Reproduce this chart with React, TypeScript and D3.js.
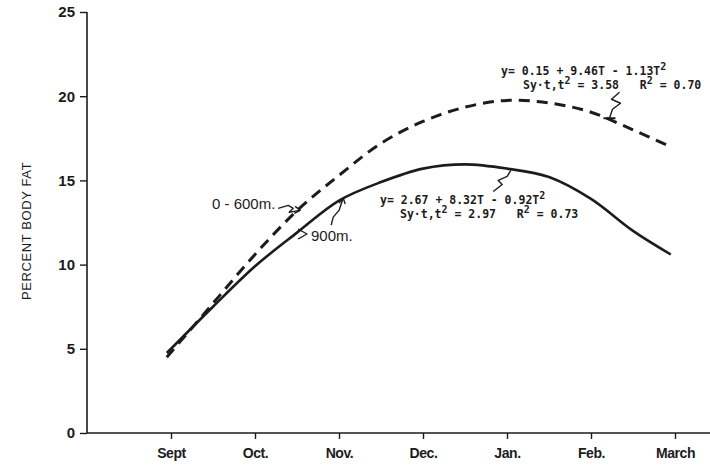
import { useRef, useEffect } from 'react';
import * as d3 from 'd3';

// months since September (0 = Sept ... 6 = March)
const monthLabels = ['Sept', 'Oct.', 'Nov.', 'Dec.', 'Jan.', 'Feb.', 'March'];
const yTicks = [0, 5, 10, 15, 20, 25];

const samplePos = [-0.05, 0.5, 1, 1.5, 2, 2.5, 3, 3.5, 4, 4.5, 5, 5.5, 5.95];
const fat900 = [4.75, 7.5, 9.9, 11.9, 13.8, 14.9, 15.7, 15.95, 15.7, 15.2, 13.9, 12.0, 10.6];
const fat600 = [4.5, 7.7, 10.6, 13.2, 15.3, 17.2, 18.5, 19.35, 19.75, 19.6, 19.05, 18.0, 17.0];

const eq600 = ['y= 0.15 + 9.46T - 1.13T', 'Sy·t,t', ' = 3.58   R', ' = 0.70'];
const eq900 = ['y= 2.67 + 8.32T - 0.92T', 'Sy·t,t', ' = 2.97   R', ' = 0.73'];

const W = 710;
const H = 465;

export default function App() {
  const svgRef = useRef<SVGSVGElement>(null);

  useEffect(() => {
    const svg = d3.select(svgRef.current);
    svg.selectAll('*').remove();

    const x = d3.scaleLinear().domain([0, 6]).range([171, 675]);
    const y = d3.scaleLinear().domain([0, 25]).range([433, 12]);
    const ink = '#1c1c1c';

    svg.append('rect').attr('width', W).attr('height', H).attr('fill', '#fff');

    // y axis
    const yAxis = svg.append('g')
      .attr('transform', `translate(${x(-1.0)},0)`)
      .call(d3.axisLeft(y).tickValues(yTicks).tickSize(7).tickPadding(5).tickSizeOuter(0));
    yAxis.select('.domain').attr('stroke', ink).attr('stroke-width', 1.6)
      .attr('d', `M0,${y(25)}V${y(0)}`);
    yAxis.selectAll('.tick line').attr('stroke', ink).attr('stroke-width', 1.4);
    yAxis.selectAll('.tick text')
      .attr('fill', ink).attr('font-family', 'Liberation Sans, Arial, sans-serif')
      .attr('font-size', 15).attr('font-weight', 'bold');

    // x axis
    const xAxis = svg.append('g')
      .attr('transform', `translate(0,${y(0)})`)
      .call(d3.axisBottom(x).tickValues(d3.range(monthLabels.length))
        .tickFormat((d: any) => monthLabels[d]).tickSize(6).tickPadding(9).tickSizeOuter(0));
    xAxis.select('.domain').attr('stroke', ink).attr('stroke-width', 1.6)
      .attr('d', `M${x(-1.0)},0H${W}`);
    xAxis.selectAll('.tick line').attr('stroke', ink).attr('stroke-width', 1.4);
    xAxis.selectAll('.tick text')
      .attr('fill', ink).attr('font-family', 'Liberation Sans, Arial, sans-serif')
      .attr('font-size', 14).attr('font-weight', 'bold').attr('letter-spacing', -0.4);

    // y axis title
    svg.append('text')
      .attr('transform', `translate(31,${y(12.0)}) rotate(-90)`)
      .attr('text-anchor', 'middle')
      .attr('font-family', 'Liberation Sans, Arial, sans-serif')
      .attr('font-size', 13).attr('letter-spacing', 0.6).attr('fill', ink)
      .text('PERCENT BODY FAT');

    const line = d3.line<number>()
      .x((_, i) => x(samplePos[i]))
      .y(d => y(d))
      .curve(d3.curveCatmullRom);

    svg.append('path').datum(fat900).attr('d', line)
      .attr('fill', 'none').attr('stroke', ink).attr('stroke-width', 2.6);

    svg.append('path').datum(fat600).attr('d', line)
      .attr('fill', 'none').attr('stroke', ink).attr('stroke-width', 3)
      .attr('stroke-dasharray', '11 7');

    // equations
    const mono = 'DejaVu Sans Mono, Liberation Mono, monospace';
    const addEq = (eq: string[], x1: number, y1: number, x2: number) => {
      const t1 = svg.append('text').attr('x', x1).attr('y', y1)
        .attr('font-family', mono).attr('font-size', 11.5).attr('font-weight', 'bold')
        .attr('fill', ink).style('white-space', 'pre');
      t1.append('tspan').text(eq[0]);
      t1.append('tspan').attr('dy', -5).attr('font-size', 10).text('2');
      const t2 = svg.append('text').attr('x', x2).attr('y', y1 + 14)
        .attr('font-family', mono).attr('font-size', 11.5).attr('font-weight', 'bold')
        .attr('fill', ink).style('white-space', 'pre');
      t2.append('tspan').text(eq[1]);
      t2.append('tspan').attr('dy', -5).attr('font-size', 10).text('2');
      t2.append('tspan').attr('dy', 5).text(eq[2]);
      t2.append('tspan').attr('dy', -5).attr('font-size', 10).text('2');
      t2.append('tspan').attr('dy', 5).text(eq[3]);
    };
    addEq(eq600, 501, 75, 523);
    addEq(eq900, 380, 204, 400);

    const leader = (pts: [number, number][], w = 1.4) =>
      svg.append('path').attr('d', d3.line()(pts)).attr('fill', 'none')
        .attr('stroke', ink).attr('stroke-width', w).attr('stroke-linejoin', 'round');

    // leader to dashed curve from its equation
    const a6 = [x(5.22), y(18.75)];
    leader([[a6[0] - 6, a6[1] + 1], [a6[0] + 6, a6[1] + 1]], 2);
    leader([[a6[0], a6[1] + 1], [a6[0] + 3, a6[1] - 8], [a6[0] + 11, a6[1] - 14],
      [a6[0] + 2, a6[1] - 18], [a6[0] + 10, a6[1] - 25]]);

    // leader to solid curve from its equation
    const a9 = [x(4.05), y(15.65)];
    leader([a9 as [number, number], [a9[0] - 4, a9[1] + 7], [a9[0] - 13, a9[1] + 11],
      [a9[0] - 9, a9[1] + 15], [a9[0] - 18, a9[1] + 22]]);

    // curve labels
    const sans = 'Liberation Sans, Arial, sans-serif';
    svg.append('text').attr('x', 212).attr('y', 209)
      .attr('font-family', sans).attr('font-size', 15).attr('fill', ink)
      .text('0 - 600m.');
    const b6 = [x(1.55), y(13.4)];
    leader([[b6[0] - 23, b6[1] + 1], [b6[0] - 13, b6[1] - 2], [b6[0] - 8, b6[1] + 1],
      [b6[0] - 12, b6[1] + 5], [b6[0] - 2, b6[1] + 3]]);
    leader([[b6[0] - 6, b6[1] - 1], [b6[0] - 1, b6[1] + 3], [b6[0] - 7, b6[1] + 6]]);

    svg.append('text').attr('x', 311).attr('y', 241)
      .attr('font-family', sans).attr('font-size', 15).attr('fill', ink)
      .text('900m.');
    leader([[298, 229], [307, 234], [298, 239]]);
    const b9 = [x(2.05), y(13.95)];
    leader([b9 as [number, number], [b9[0] - 4, b9[1] + 12], [b9[0] - 10, b9[1] + 19],
      [b9[0] - 12, b9[1] + 27]]);
    leader([[b9[0] - 4, b9[1] + 5], [b9[0], b9[1]], [b9[0] + 2, b9[1] + 6]]);
  }, []);

  return (
    <svg ref={svgRef} width={W} height={H}
      style={{ position: 'absolute', left: 0, top: 0, display: 'block' }} />
  );
}
